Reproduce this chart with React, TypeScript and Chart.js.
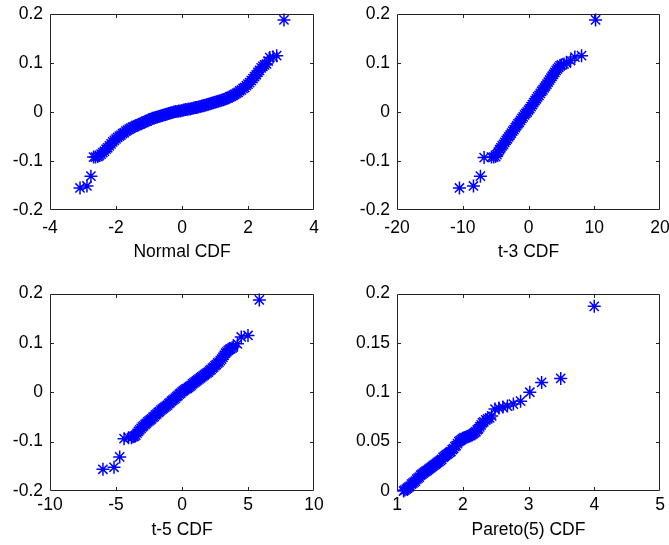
import React, { useEffect, useRef } from "react";
import { Chart, registerables } from "chart.js";

Chart.register(...registerables);

// ---- Data (QQ plots of one sample) ----
const normalX = [
  -3.09, -2.88, -2.76, -2.68, -2.62,
  -2.55, -2.50, -2.45, -2.40, -2.35, -2.30, -2.25, -2.20, -2.15, -2.10,
  -2.05, -2.00, -1.95, -1.90, -1.85, -1.80, -1.75, -1.70, -1.65, -1.60,
  -1.55, -1.50, -1.45, -1.40, -1.35, -1.30, -1.25, -1.20, -1.15, -1.10,
  -1.05, -1.00, -0.95, -0.90, -0.85, -0.80, -0.75, -0.70, -0.65, -0.60,
  -0.55, -0.50, -0.45, -0.40, -0.35, -0.30, -0.25, -0.20, -0.15, -0.10,
  -0.05, 0.00, 0.05, 0.10, 0.15, 0.20, 0.25, 0.30, 0.35, 0.40,
  0.45, 0.50, 0.55, 0.60, 0.65, 0.70, 0.75, 0.80, 0.85, 0.90,
  0.95, 1.00, 1.05, 1.10, 1.15, 1.20, 1.25, 1.30, 1.35, 1.40,
  1.45, 1.50, 1.55, 1.60, 1.65, 1.70, 1.75, 1.80, 1.85, 1.90,
  1.95, 2.00, 2.05, 2.10, 2.15, 2.20, 2.25, 2.30, 2.35, 2.40,
  2.45, 2.50, 2.56, 2.61, 2.66, 2.76, 2.87, 3.09,
];
const normalY = [
  -0.155, -0.151, -0.131, -0.092, -0.092,
  -0.091, -0.089, -0.086, -0.083, -0.080, -0.076, -0.073, -0.069, -0.065, -0.061,
  -0.058, -0.055, -0.052, -0.049, -0.047, -0.044, -0.042, -0.039, -0.037, -0.035,
  -0.033, -0.031, -0.030, -0.028, -0.027, -0.025, -0.024, -0.022, -0.021, -0.019,
  -0.018, -0.016, -0.015, -0.013, -0.012, -0.011, -0.010, -0.009, -0.008, -0.007,
  -0.006, -0.005, -0.004, -0.003, -0.002, -0.001, 0.000, 0.001, 0.001, 0.002,
  0.002, 0.003, 0.004, 0.005, 0.005, 0.006, 0.006, 0.007, 0.008, 0.009,
  0.009, 0.010, 0.011, 0.012, 0.013, 0.014, 0.015, 0.016, 0.017, 0.018,
  0.019, 0.020, 0.021, 0.022, 0.023, 0.024, 0.025, 0.026, 0.028, 0.029,
  0.031, 0.032, 0.034, 0.036, 0.038, 0.040, 0.043, 0.045, 0.048, 0.050,
  0.054, 0.057, 0.060, 0.064, 0.068, 0.072, 0.076, 0.081, 0.085, 0.090,
  0.093, 0.096, 0.098, 0.104, 0.111, 0.112, 0.115, 0.188,
];

const t3X = [
  -10.5, -8.37, -7.31, -6.75, -5.63, -5.3,
  -5.0, -4.8, -4.6, -4.4, -4.2, -4.0, -3.8, -3.6, -3.4, -3.2,
  -3.0, -2.8, -2.6, -2.4, -2.2, -2.0, -1.8, -1.6, -1.4, -1.2,
  -1.0, -0.8, -0.6, -0.4, -0.2, 0.0, 0.2, 0.4, 0.6, 0.8,
  1.0, 1.2, 1.4, 1.6, 1.8, 2.0, 2.2, 2.4, 2.6, 2.8,
  3.0, 3.2, 3.4, 3.6, 3.8, 4.0, 4.2, 4.4, 4.6, 4.8,
  5.0, 5.4, 5.78, 6.4, 7.05, 8.07, 10.2,
];
const t3Y = [
  -0.155, -0.151, -0.131, -0.093, -0.092, -0.092,
  -0.091, -0.087, -0.082, -0.077, -0.073, -0.069, -0.066, -0.062, -0.058, -0.055,
  -0.051, -0.047, -0.043, -0.039, -0.036, -0.032, -0.028, -0.024, -0.021, -0.017,
  -0.013, -0.010, -0.006, -0.003, 0.000, 0.004, 0.007, 0.011, 0.015, 0.019,
  0.023, 0.027, 0.031, 0.034, 0.038, 0.042, 0.045, 0.049, 0.053, 0.057,
  0.061, 0.065, 0.069, 0.073, 0.077, 0.081, 0.085, 0.088, 0.091, 0.094,
  0.096, 0.098, 0.100, 0.105, 0.112, 0.115, 0.188,
];

const t5X = [
  -5.99, -5.15, -4.72, -4.39, -4.05, -3.83,
  -3.7, -3.6, -3.5, -3.4, -3.3, -3.2, -3.1, -3.0, -2.9, -2.8,
  -2.7, -2.6, -2.5, -2.4, -2.3, -2.2, -2.1, -2.0, -1.9, -1.8,
  -1.7, -1.6, -1.5, -1.4, -1.3, -1.2, -1.1, -1.0, -0.9, -0.8,
  -0.7, -0.6, -0.5, -0.4, -0.3, -0.2, -0.1, 0.0, 0.1, 0.2,
  0.3, 0.4, 0.5, 0.6, 0.7, 0.8, 0.9, 1.0, 1.1, 1.2,
  1.3, 1.4, 1.5, 1.6, 1.7, 1.8, 1.9, 2.0, 2.1, 2.2,
  2.3, 2.4, 2.5, 2.6, 2.7, 2.8, 2.9, 3.0, 3.1, 3.2,
  3.3, 3.4, 3.5, 3.6, 3.7, 3.8, 3.9, 4.2, 4.49, 5.0, 5.86,
];
const t5Y = [
  -0.156, -0.152, -0.131, -0.094, -0.092, -0.092,
  -0.090, -0.089, -0.087, -0.083, -0.079, -0.076, -0.073, -0.070, -0.068, -0.065,
  -0.063, -0.060, -0.058, -0.056, -0.054, -0.051, -0.049, -0.046, -0.044, -0.041,
  -0.039, -0.036, -0.034, -0.032, -0.030, -0.028, -0.026, -0.023, -0.021, -0.018,
  -0.016, -0.014, -0.012, -0.009, -0.007, -0.004, -0.002, 0.001, 0.003, 0.005,
  0.007, 0.008, 0.010, 0.012, 0.014, 0.017, 0.019, 0.021, 0.023, 0.025,
  0.027, 0.029, 0.031, 0.033, 0.035, 0.037, 0.039, 0.041, 0.044, 0.046,
  0.049, 0.051, 0.054, 0.056, 0.059, 0.061, 0.064, 0.067, 0.071, 0.075,
  0.079, 0.082, 0.085, 0.087, 0.088, 0.090, 0.092, 0.098, 0.112, 0.115, 0.187,
];

const paretoX = [
  1.10, 1.12, 1.14, 1.16, 1.18, 1.20, 1.22, 1.24, 1.26, 1.28,
  1.30, 1.32, 1.34, 1.36, 1.38, 1.40, 1.42, 1.44, 1.46, 1.48,
  1.50, 1.52, 1.54, 1.56, 1.58, 1.60, 1.62, 1.64, 1.66, 1.68,
  1.70, 1.72, 1.74, 1.76, 1.78, 1.80, 1.82, 1.84, 1.86, 1.88,
  1.90, 1.92, 1.94, 1.96, 1.98, 2.00, 2.02, 2.04, 2.06, 2.08,
  2.10, 2.12, 2.14, 2.16, 2.18, 2.20, 2.22, 2.24, 2.26, 2.28,
  2.30, 2.32, 2.35, 2.38, 2.41, 2.44, 2.49, 2.55, 2.61, 2.68,
  2.77, 2.88, 3.02, 3.20, 3.49, 4.0,
];
const paretoY = [
  0.000, 0.001, 0.002, 0.003, 0.004, 0.005, 0.007, 0.008, 0.009, 0.010,
  0.012, 0.013, 0.014, 0.016, 0.017, 0.018, 0.019, 0.020, 0.021, 0.022,
  0.023, 0.024, 0.025, 0.026, 0.027, 0.028, 0.029, 0.030, 0.031, 0.032,
  0.034, 0.035, 0.036, 0.037, 0.038, 0.039, 0.040, 0.042, 0.043, 0.045,
  0.046, 0.048, 0.050, 0.051, 0.052, 0.053, 0.054, 0.054, 0.055, 0.055,
  0.056, 0.056, 0.057, 0.058, 0.059, 0.060, 0.062, 0.063, 0.065, 0.067,
  0.069, 0.070, 0.072, 0.073, 0.074, 0.076, 0.083, 0.084, 0.085, 0.086,
  0.088, 0.091, 0.100, 0.110, 0.114, 0.187,
];

const titles = ["Normal CDF", "t-3 CDF", "t-5 CDF", "Pareto(5) CDF"];
const xRanges = [[-4, 4, 2], [-20, 20, 10], [-10, 10, 5], [1, 5, 1]];
const yRanges = [[-0.2, 0.2, 0.1], [-0.2, 0.2, 0.1], [-0.2, 0.2, 0.1], [0, 0.2, 0.05]];

const FONT_FAMILY = "'Liberation Sans', Arial, Helvetica, sans-serif";
const FONT_SIZE = 17.5;
const MARKER = "#0000ff";
const AXIS = "#222222";

const boxPlugin = {
  id: "matlabBox",
  beforeDatasetsDraw(chart: any) {
    const { ctx, chartArea: a, scales } = chart;
    const l = Math.round(a.left), r = Math.round(a.right), t = Math.round(a.top), b = Math.round(a.bottom);
    ctx.save();
    ctx.strokeStyle = AXIS;
    ctx.lineWidth = 1;
    ctx.beginPath();
    ctx.rect(l + 0.5, t + 0.5, r - l - 1, b - t - 1);
    const len = 4;
    const xs = scales.x;
    xs.ticks.forEach((tk: any) => {
      const p = Math.round(xs.getPixelForValue(tk.value)) + 0.5;
      if (p < l + 2 || p > r - 2) return;
      ctx.moveTo(p, b); ctx.lineTo(p, b - len);
      ctx.moveTo(p, t); ctx.lineTo(p, t + len);
    });
    const ys = scales.y;
    ys.ticks.forEach((tk: any) => {
      const p = Math.round(ys.getPixelForValue(tk.value)) + 0.5;
      if (p < t + 2 || p > b - 2) return;
      ctx.moveTo(l, p); ctx.lineTo(l + len, p);
      ctx.moveTo(r, p); ctx.lineTo(r - len, p);
    });
    ctx.stroke();
    ctx.restore();
  },
};

type PanelProps = {
  idx: number;
  xs: number[];
  ys: number[];
  left: number; top: number; width: number; height: number;
  plotLeft: number; plotRight: number; plotTop: number; plotBottom: number;
  tickPad: number; titlePad: number;
};

const fmt = (v: any) => String(Math.round(Number(v) * 1000) / 1000);

function Panel(p: PanelProps) {
  const ref = useRef<HTMLCanvasElement | null>(null);
  useEffect(() => {
    if (!ref.current) return;
    const [xmin, xmax, xstep] = xRanges[p.idx];
    const [ymin, ymax, ystep] = yRanges[p.idx];
    const font = { family: FONT_FAMILY, size: FONT_SIZE };
    const n = Math.min(p.xs.length, p.ys.length);
    const points = [];
    for (let i = 0; i < n; i++) points.push({ x: p.xs[i], y: p.ys[i] });
    const chart = new Chart(ref.current, {
      type: "scatter",
      data: {
        datasets: [
          {
            data: points,
            pointStyle: "star",
            radius: 6.5,
            borderColor: MARKER,
            backgroundColor: MARKER,
            borderWidth: 1.5,
            clip: false as any,
          },
        ],
      },
      options: {
        responsive: false,
        animation: false,
        devicePixelRatio: 1,
        events: [],
        layout: { padding: { left: 0, right: p.width - p.plotRight, top: p.plotTop, bottom: 0 } },
        plugins: { legend: { display: false }, tooltip: { enabled: false } },
        scales: {
          x: {
            type: "linear",
            min: xmin, max: xmax,
            grid: { display: false, drawTicks: false },
            border: { display: false },
            ticks: { stepSize: xstep, autoSkip: false, maxRotation: 0, minRotation: 0, padding: p.tickPad, color: "#000", font, callback: fmt },
            title: { display: true, text: titles[p.idx], color: "#000", font, padding: { top: 0, bottom: p.titlePad } },
            afterFit: (s: any) => { s.height = p.height - p.plotBottom; s.paddingLeft = 0; s.paddingRight = 0; },
          },
          y: {
            type: "linear",
            min: ymin, max: ymax,
            grid: { display: false, drawTicks: false },
            border: { display: false },
            ticks: { stepSize: ystep, autoSkip: false, padding: 7, color: "#000", font, callback: fmt },
            afterFit: (s: any) => { s.width = p.plotLeft; s.paddingTop = 0; s.paddingBottom = 0; },
          },
        },
      } as any,
      plugins: [boxPlugin],
    });
    return () => chart.destroy();
  }, []);
  return (
    <canvas
      ref={ref}
      width={p.width}
      height={p.height}
      style={{ position: "absolute", left: p.left, top: p.top, width: p.width, height: p.height }}
    />
  );
}

export default function App() {
  return (
    <div style={{ position: "fixed", left: 0, top: 0, width: 669, height: 545, background: "#fff", overflow: "hidden" }}>
      <Panel idx={0} xs={normalX} ys={normalY} left={0} top={0} width={334} height={272}
        plotLeft={50} plotRight={314} plotTop={14} plotBottom={210} tickPad={7.8} titlePad={9.8} />
      <Panel idx={1} xs={t3X} ys={t3Y} left={334} top={0} width={335} height={272}
        plotLeft={63} plotRight={326} plotTop={14} plotBottom={210} tickPad={7.8} titlePad={9.8} />
      <Panel idx={2} xs={t5X} ys={t5Y} left={0} top={272} width={334} height={273}
        plotLeft={50} plotRight={314} plotTop={21.5} plotBottom={219} tickPad={4} titlePad={4.3} />
      <Panel idx={3} xs={paretoX} ys={paretoY} left={334} top={272} width={335} height={273}
        plotLeft={63} plotRight={326} plotTop={21.5} plotBottom={219} tickPad={4} titlePad={4.3} />
    </div>
  );
}
